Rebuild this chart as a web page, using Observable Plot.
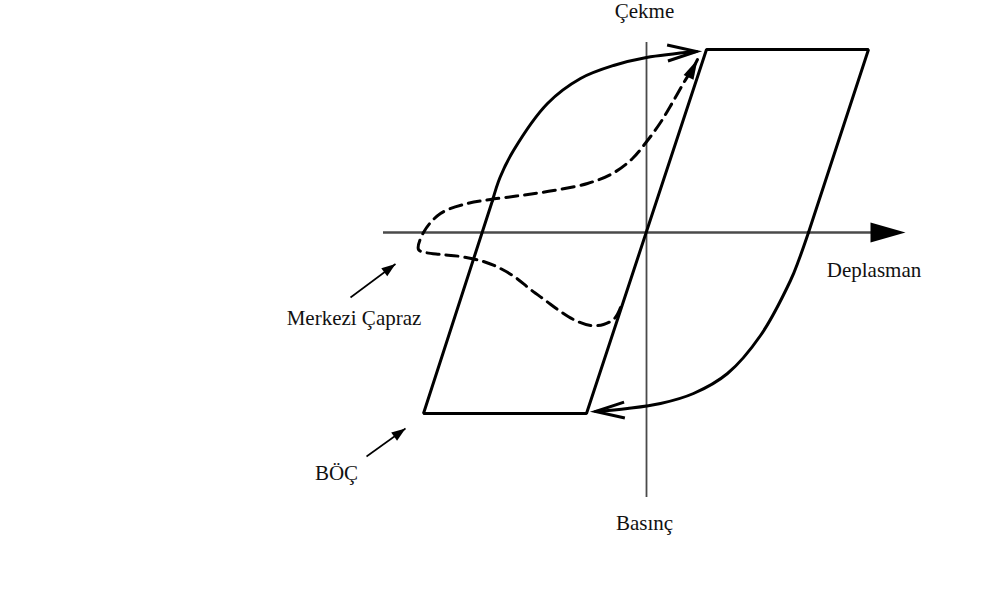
<!DOCTYPE html>
<html>
<head>
<meta charset="utf-8">
<script src="https://cdn.jsdelivr.net/npm/d3@7"></script>
<script src="https://cdn.jsdelivr.net/npm/@observablehq/plot@0.6"></script>
<style>
  html, body { margin: 0; padding: 0; background: #fff; overflow: hidden; }
</style>
</head>
<body>
<div id="chart"></div>
<script>
// ---- Data (displacement x, force y; arbitrary units) ----
// BÖÇ straight (elastic / yield) segments
const frameX = [-15.4, -22.3, -6.0, 6.0, 22.2, 16.2];
const frameY = [3.2, -18.1, -18.1, 18.3, 18.3, 0];

// BÖÇ curved reloading branch towards tension (Çekme)
const tensionX = [-15.4, -14.65, -13.3, -9.9, -6.6, -3.3, 0, 5.0];
const tensionY = [3.2, 5.5, 8.2, 12.9, 15.4, 16.7, 17.5, 18.1];

// BÖÇ curved reloading branch towards compression (Basınç)
const compressionX = [16.2, 15.25, 14.4, 11.4, 8.1, 4.7, 1.4, -1.9, -5.1];
const compressionY = [0, -2.7, -4.8, -10.3, -14.1, -16.1, -17.1, -17.6, -17.9];

// Merkezi Çapraz (dashed) response
const braceX = [-2.6, -3.2, -4.3, -5.6, -7.1, -8.6, -10.1, -11.6, -13.1, -14.6, -16.3, -18.6, -20.6, -22.1, -22.8, -22.3, -20.6, -17.9, -15.6, -12.6, -9.3, -5.9, -3.4, -1.4, 0.1, 1.4, 2.6, 3.8, 4.8];
const braceY = [-7.5, -8.6, -9.2, -9.3, -8.8, -7.9, -6.8, -5.7, -4.5, -3.6, -2.9, -2.4, -2.2, -2.0, -1.7, 0, 1.9, 2.9, 3.3, 3.7, 4.2, 4.9, 5.9, 7.4, 9.2, 11.0, 13.0, 15.1, 16.7];
const braceTip = [5.1, 17.3];

// Axes extents
const xAxisRange = [-26.3, 22.8];
const xAxisTip = 25.9;
const yAxisRange = [-26.5, 19.0];

// Open arrowheads on the solid curves: tip and a point behind it
const openTipX = [5.0, -5.1];
const openTipY = [18.1, -17.9];
const openFromX = [2.15, -2.1];
const openFromY = [17.95, -17.75];

// Annotation arrows
const annotFromX = [-29.6, -28.0];
const annotFromY = [-6.5, -22.4];
const annotToX = [-25.1, -24.1];
const annotToY = [-3.15, -19.6];

// Labels
const labels = ["Çekme", "Deplasman", "Basınç", "Merkezi Çapraz", "BÖÇ"];
const labelX = [-0.2, 22.75, -0.2, -29.25, -31.0];
const labelY = [22.1, -3.75, -29.05, -8.6, -24.05];

// ---- Helpers ----
const zip = (xs, ys) => xs.map((x, i) => ({x, y: ys[i]}));
const angle = (tx, ty, fx, fy) => Math.atan2(tx - fx, ty - fy) * 180 / Math.PI;
// arrowhead symbol: tip at the anchor point, pointing "up" before rotation
const head = (L, W, closed) => ({
  draw(ctx) {
    ctx.moveTo(-W, L);
    ctx.lineTo(0, 0);
    ctx.lineTo(W, L);
    if (closed) ctx.closePath();
  }
});

const frame = zip(frameX, frameY);
const tension = zip(tensionX, tensionY);
const compression = zip(compressionX, compressionY);
const brace = zip(braceX, braceY);

const openHeads = openTipX.map((x, i) => ({
  x, y: openTipY[i], a: angle(x, openTipY[i], openFromX[i], openFromY[i])
}));
const annots = annotFromX.map((x, i) => ({
  x1: x, y1: annotFromY[i], x2: annotToX[i], y2: annotToY[i],
  a: angle(annotToX[i], annotToY[i], x, annotFromY[i])
}));
const braceHead = [{
  x: braceTip[0], y: braceTip[1],
  a: angle(braceTip[0], braceTip[1], braceX[braceX.length - 1], braceY[braceY.length - 1])
}];
const labelData = labels.map((t, i) => ({t, x: labelX[i], y: labelY[i]}));

const chart = Plot.plot({
  width: 984,
  height: 608,
  margin: 0,
  x: {domain: [-64.6, 33.8], axis: null},
  y: {domain: [-37.6, 23.2], axis: null},
  style: {background: "#ffffff", overflow: "visible"},
  marks: [
    // axes
    Plot.ruleY([0], {x1: xAxisRange[0], x2: xAxisRange[1], stroke: "#4a4a4a", strokeWidth: 2.3}),
    Plot.ruleX([0], {y1: yAxisRange[0], y2: yAxisRange[1], stroke: "#4a4a4a", strokeWidth: 1.8}),
    Plot.dot([{x: xAxisTip, y: 0}], {x: "x", y: "y", symbol: head(35, 10, true), fill: "#000", stroke: "none", rotate: 90}),

    // Merkezi Çapraz dashed curve
    Plot.line(brace, {x: "x", y: "y", curve: "catmull-rom", stroke: "#000", strokeWidth: 3, strokeDasharray: "12,7"}),
    Plot.line([brace[brace.length - 1], {x: braceTip[0], y: braceTip[1]}], {x: "x", y: "y", stroke: "#000", strokeWidth: 3}),
    Plot.dot(braceHead, {x: "x", y: "y", rotate: "a", symbol: head(20, 5.5, true), fill: "#000", stroke: "none"}),

    // BÖÇ loop
    Plot.line(frame, {x: "x", y: "y", stroke: "#000", strokeWidth: 3, strokeLinejoin: "miter"}),
    Plot.line(tension, {x: "x", y: "y", curve: "catmull-rom", stroke: "#000", strokeWidth: 3}),
    Plot.line(compression, {x: "x", y: "y", curve: "catmull-rom", stroke: "#000", strokeWidth: 3}),
    Plot.dot(openHeads, {x: "x", y: "y", rotate: "a", symbol: head(29, 8, false), fill: "none", stroke: "#000", strokeWidth: 3, strokeLinejoin: "miter"}),

    // annotation arrows
    Plot.link(annots, {x1: "x1", y1: "y1", x2: "x2", y2: "y2", stroke: "#000", strokeWidth: 1.6}),
    Plot.dot(annots, {x: "x2", y: "y2", rotate: "a", symbol: head(14, 5, true), fill: "#000", stroke: "none"}),

    // labels
    Plot.text(labelData, {x: "x", y: "y", text: "t", fontFamily: "Liberation Serif, Times New Roman, serif", fontSize: 21, fill: "#111", textAnchor: "middle"})
  ]
});
document.getElementById("chart").appendChild(chart);
</script>
</body>
</html>
